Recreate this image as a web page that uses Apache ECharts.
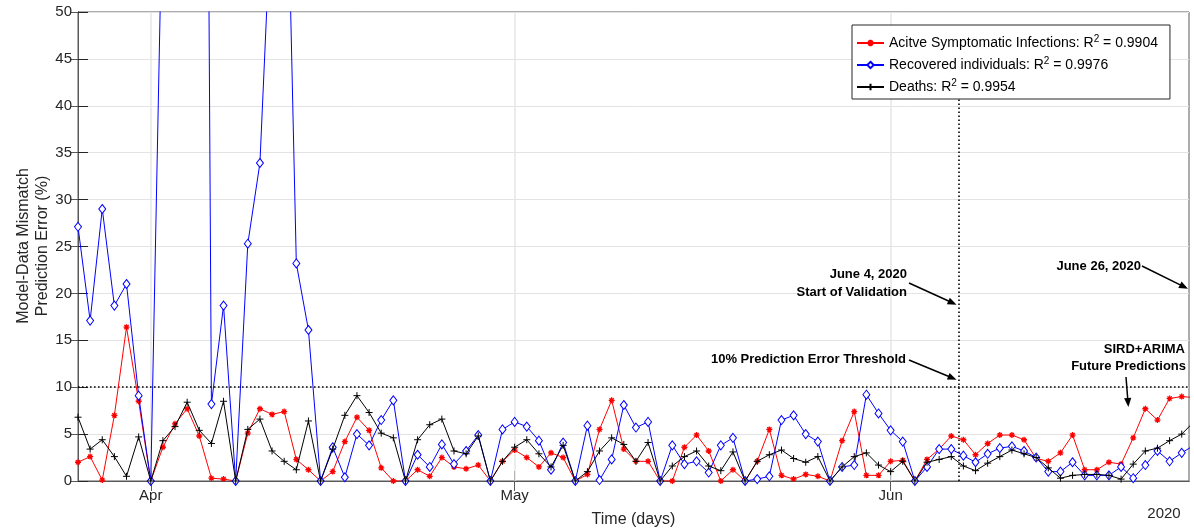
<!DOCTYPE html>
<html><head><meta charset="utf-8">
<script src="https://cdn.jsdelivr.net/npm/echarts@6/dist/echarts.min.js"></script>
<style>html,body{margin:0;padding:0;background:#fff}#c{width:1194px;height:532px}</style>
</head><body><div id="c"></div>
<script>
// Day index 0 = Mar 26, 2020
const monthTickDays = [6, 36, 67];
const monthTickLabels = ['Apr', 'May', 'Jun'];
const yearLabel = '2020';
const xMaxDay = 91.6;

const infected = [2.0,2.6,0.1,7.0,16.4,8.5,0,3.6,6.1,7.7,
  4.8,0.3,0.2,0,5.1,7.7,7.1,7.4,2.3,1.2,
  0,1.0,4.2,6.8,5.4,1.4,0,0,1.2,0.5,
  2.5,1.5,1.3,1.7,0,2.1,3.3,2.5,1.5,3.0,
  2.5,0,0.7,5.5,8.6,3.4,2.1,2.1,0,0,
  3.6,4.9,3.2,0,1.2,0,2.1,5.5,0.6,0.2,
  0.7,0.5,0,4.3,7.4,0.6,0.6,2.1,2.2,0,
  2.3,3.4,4.8,4.4,2.8,4.0,4.9,4.9,4.4,2.4,
  2.1,3.0,4.9,1.2,1.2,2.0,1.8,4.6,7.7,6.5,
  8.8,9.0,8.9];
const recovered = [27.1,17.1,29.0,18.7,21.0,9.1,0,65,150,200,
  220,8.2,18.7,0,25.3,33.9,63,81,23.2,16.1,
  0,3.6,0.4,5.0,3.8,6.5,8.6,0,2.8,1.5,
  3.9,1.8,3.2,4.9,0,5.5,6.3,5.8,4.3,1.2,
  4.1,0,5.9,0.1,2.3,8.1,5.7,6.3,0,3.8,
  1.8,2.1,0.9,3.8,4.6,0,0.2,0.5,6.5,7.0,
  5.0,4.2,0,1.5,1.7,9.2,7.2,5.4,4.2,0,
  1.5,3.4,3.4,2.7,2.0,2.9,3.5,3.7,3.2,2.5,
  1.0,1.0,2.0,0.6,0.6,0.6,1.5,0.3,1.7,3.2,
  2.1,3.0,3.8];
const deaths = [6.8,3.4,4.4,2.6,0.5,4.7,0,4.3,5.8,8.4,
  5.4,4.0,8.5,0,5.5,6.6,3.2,2.1,1.2,6.4,
  0,3.4,7.0,9.1,7.3,5.1,4.6,0,4.4,6.0,
  6.6,3.2,2.9,4.8,0,2.1,3.6,4.4,2.9,1.5,
  3.8,0,1.0,3.2,4.6,3.9,2.1,4.1,0,1.6,
  2.6,3.2,1.6,1.1,3.1,0,2.1,2.8,3.3,2.4,
  2.0,2.6,0,1.5,2.6,3.0,1.7,1.0,2.1,0,
  2.0,2.3,2.6,1.6,1.1,1.9,2.6,3.3,2.9,2.5,
  1.4,0.3,0.6,0.7,0.7,0.6,0.2,1.8,3.2,3.5,
  4.3,5.0,6.3];

const seriesNames = ['Acitve Symptomatic Infections: R2 = 0.9904',
                     'Recovered individuals: R2 = 0.9976',
                     'Deaths: R2 = 0.9954'];
const seriesColors = ['#ff0000', '#0000ff', '#000000'];
const thresholdValue = 10;
const validationDay = 72.6;
const validationTop = 41;

const FONT = 'Liberation Sans, Arial, Helvetica, sans-serif';
const toPairs = arr => arr.map((v, i) => [i, v]);

const asterisk = 'path://M5 0L5 10M0 5L10 5M1.5 1.5L8.5 8.5M1.5 8.5L8.5 1.5';
const plus = 'path://M5 0L5 10M0 5L10 5';
const diamond = 'path://M5 0L10 6.5L5 13L0 6.5Z';

const chart = echarts.init(document.getElementById('c'), null, {renderer: 'canvas'});

function lineSeries(name, data, color, symbol, size, z, fill, bw, extra) {
  return Object.assign({
    name, type: 'line', data, z,
    symbol, symbolSize: size, showSymbol: true,
    clip: true, animation: false,
    lineStyle: {color, width: 1, join: 'round'},
    itemStyle: {color: fill, borderColor: color, borderWidth: bw},
    emphasis: {disabled: true}
  }, extra || {});
}

const option = {
  animation: false,
  grid: {left: 78, right: 5, top: 12, bottom: 51, show: true, borderColor: '#595959', borderWidth: 1, backgroundColor: 'transparent'},
  xAxis: [{
    type: 'value', min: 0, max: xMaxDay, position: 'bottom',
    axisLine: {show: true, onZero: false, lineStyle: {color: '#262626', width: 1}},
    axisTick: {show: true, inside: true, length: 10, customValues: monthTickDays, lineStyle: {color: '#262626'}},
    axisLabel: {show: true, customValues: monthTickDays, margin: 7, fontFamily: FONT, fontSize: 15, color: '#262626',
      formatter: v => monthTickLabels[monthTickDays.indexOf(Math.round(v))] || ''},
    splitLine: {show: false}
  }, {
    type: 'value', min: 0, max: xMaxDay, position: 'top',
    axisLine: {show: true, lineStyle: {color: '#595959'}},
    axisTick: {show: true, inside: true, length: 10, customValues: monthTickDays, lineStyle: {color: '#595959'}},
    axisLabel: {show: false}, splitLine: {show: false}
  }],
  yAxis: [{
    type: 'value', min: 0, max: 50, interval: 5, position: 'left',
    axisLine: {show: true, lineStyle: {color: '#262626'}},
    axisTick: {show: true, inside: true, length: 10, lineStyle: {color: '#262626'}},
    axisLabel: {margin: 6, fontFamily: FONT, fontSize: 15, color: '#262626'},
    splitLine: {show: true, lineStyle: {color: '#e3e3e3', width: 1}}
  }, {
    type: 'value', min: 0, max: 50, interval: 5, position: 'right',
    axisLine: {show: true, lineStyle: {color: '#595959'}},
    axisTick: {show: true, inside: true, length: 8, lineStyle: {color: '#595959'}},
    axisLabel: {show: false}, splitLine: {show: false}
  }],
  legend: {
    orient: 'vertical', left: 852, top: 25, z: 20,
    data: seriesNames,
    backgroundColor: '#fff', borderColor: '#262626', borderWidth: 1,
    padding: [9, 12, 3, 4], itemGap: 4, itemWidth: 27, itemHeight: 8,
    selectedMode: false,
    textStyle: {fontFamily: FONT, fontSize: 14, color: '#000', lineHeight: 18,
      rich: {sup: {fontFamily: FONT, fontSize: 10, color: '#000', verticalAlign: 'top', lineHeight: 10},
             t: {fontFamily: FONT, fontSize: 14, color: '#000', lineHeight: 18}}},
    formatter: name => '{t|' + name.replace('R2', 'R}{sup|2}{t|') + '}'
  },
  series: [
    {
      type: 'line', data: [], z: 1, silent: true,
      markLine: {
        z: 1, silent: true, symbol: 'none', animation: false, label: {show: false},
        lineStyle: {color: '#e6e6e6', width: 1.5, type: 'solid'},
        data: monthTickDays.map(d => ({xAxis: d}))
      }
    },
    lineSeries(seriesNames[0], toPairs(infected), seriesColors[0], asterisk, 6, 2, seriesColors[0], 1.3),
    lineSeries(seriesNames[1], toPairs(recovered), seriesColors[1], diamond, [7, 9], 3, '#ffffff', 1),
    lineSeries(seriesNames[2], toPairs(deaths), seriesColors[2], plus, 7, 4, seriesColors[2], 1, {
      markLine: {
        z: 2, silent: true, symbol: 'none', animation: false, label: {show: false},
        lineStyle: {color: '#000', width: 1.6, type: [1.6, 2.4]},
        data: [
          {yAxis: thresholdValue},
          [{coord: [validationDay, 0]}, {coord: [validationDay, validationTop]}]
        ]
      }
    })
  ]
};
chart.setOption(option);

// Annotations
const px = (x, y) => chart.convertToPixel({gridIndex: 0}, [x, y]);
function arrow(p0, p1) {
  const dx = p1[0] - p0[0], dy = p1[1] - p0[1], L = Math.hypot(dx, dy);
  const ux = dx / L, uy = dy / L, hl = 9, hw = 3.6;
  const base = [p1[0] - ux * hl, p1[1] - uy * hl];
  const l = [base[0] - uy * hw, base[1] + ux * hw], r = [base[0] + uy * hw, base[1] - ux * hw];
  return [
    {type: 'line', z: 100, shape: {x1: p0[0], y1: p0[1], x2: base[0] + ux * 2, y2: base[1] + uy * 2}, style: {stroke: '#000', lineWidth: 1.5}},
    {type: 'polygon', z: 100, shape: {points: [p1, l, r]}, style: {fill: '#000'}}
  ];
}
function label(text, x, y, align) {
  return {type: 'text', z: 100, x, y, style: {text, align: align || 'right', verticalAlign: 'middle',
    font: 'bold 13px ' + FONT, fill: '#000'}};
}
const tipVal = px(validationDay, 18.8);
const tipThr = px(validationDay, 10.8);
const tipEnd = px(xMaxDay, 20.5);
const tipFut = px(86.6, 7.9);
const graphics = [
  label('June 4, 2020', 907, 274),
  label('Start of Validation', 907, 292),
  ...arrow([909, 283], [tipVal[0] - 2, tipVal[1]]),
  label('10% Prediction Error Threshold', 906, 359),
  ...arrow([909, 360], [tipThr[0] - 2, tipThr[1]]),
  label('June 26, 2020', 1141, 266),
  ...arrow([1142, 266], [tipEnd[0] - 1, tipEnd[1]]),
  label('SIRD+ARIMA', 1185, 349),
  label('Future Predictions', 1186, 366),
  ...arrow([1126, 377], tipFut),
  {type: 'text', x: 33, y: 246, rotation: Math.PI / 2, style: {text: 'Model-Data Mismatch\nPrediction Error (%)',
    align: 'center', verticalAlign: 'middle', font: '16px ' + FONT, lineHeight: 19, fill: '#262626'}},
  {type: 'text', x: (px(0, 0)[0] + px(xMaxDay, 0)[0]) / 2, y: 520, style: {text: 'Time (days)', align: 'center',
    verticalAlign: 'middle', font: '16px ' + FONT, fill: '#262626'}},
  {type: 'text', x: 1164, y: 514, style: {text: yearLabel, align: 'center', verticalAlign: 'middle',
    font: '15px ' + FONT, fill: '#262626'}}
];
chart.setOption({graphic: {elements: graphics}});
</script></body></html>
